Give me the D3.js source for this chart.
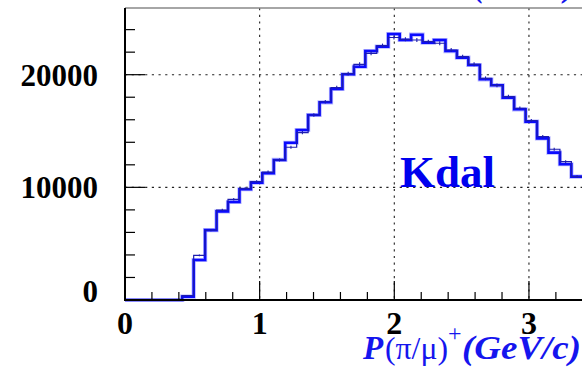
<!DOCTYPE html>
<html>
<head>
<meta charset="utf-8">
<script src="https://cdn.jsdelivr.net/npm/d3@7"></script>
<style>
  html, body { margin: 0; padding: 0; background: #ffffff; }
  svg { display: block; }
</style>
</head>
<body>
<svg id="chart" width="582" height="369"></svg>
<script>
// Momentum spectrum of the charged pi/mu, two overlaid histograms
const binWidth = 0.085;                 // GeV/c per bin
// Thick histogram (reference sample), counts per bin
const refCounts = [0, 0, 0, 0, 0, 300, 3550, 6200, 7870, 8700,
  9830, 10420, 11250, 12430, 13960, 15090, 16420, 17550, 18730, 20040,
  20710, 22100, 22490, 23610, 23080, 23550, 22840, 23080, 22100, 21510,
  20860, 19590, 19060, 17960, 16930, 15830, 14350, 13080, 12050, 10950];
// Thin histogram with error bars, counts per bin
const obsCounts = [0, 0, 0, 0, 0, 380, 3970, 6190, 7990, 8940,
  9880, 10500, 11360, 12430, 13560, 14850, 16420, 17600, 18850, 20090,
  20920, 21900, 22580, 23300, 23140, 23080, 22930, 22790, 22190, 21600,
  20920, 19680, 19060, 18050, 17020, 15920, 14500, 13380, 12280, 10950];
const xTickLabels = [0, 1, 2, 3];
const yTickLabels = [0, 10000, 20000];
const xDomain = [0, 3.5];
const yDomain = [0, 25920];
const sampleLabel = "Kdal";

const svg = d3.select("#chart");
const serif = "'Liberation Serif', 'Times New Roman', serif";

const x = d3.scaleLinear().domain(xDomain).range([125, 125 + 134.65 * xDomain[1]]);
const y = d3.scaleLinear().domain(yDomain).range([300, 8]);

// grid
const grid = svg.append("g").attr("stroke", "#222").attr("stroke-width", 1.1)
  .attr("stroke-dasharray", "2.2 4.5");
grid.selectAll("line.v").data(xTickLabels.filter(d => d > 0)).join("line")
  .attr("x1", d => x(d)).attr("x2", d => x(d)).attr("y1", y.range()[1]).attr("y2", y.range()[0]);
grid.selectAll("line.h").data(yTickLabels.filter(d => d > 0)).join("line")
  .attr("x1", x(0)).attr("x2", x.range()[1]).attr("y1", d => y(d)).attr("y2", d => y(d));

// top frame line
svg.append("line").attr("x1", x(0)).attr("x2", x.range()[1])
  .attr("y1", y.range()[1]).attr("y2", y.range()[1])
  .attr("stroke", "#888").attr("stroke-width", 1.5);

// step paths
function stepPoints(counts) {
  const pts = counts.map((c, i) => [i * binWidth, c]);
  pts.push([counts.length * binWidth, counts[counts.length - 1]]);
  return pts;
}
const step = d3.line().x(d => x(d[0])).y(d => y(d[1])).curve(d3.curveStepAfter);

svg.append("path").datum(stepPoints(refCounts)).attr("d", step)
  .attr("fill", "none").attr("stroke", "#7a7aff").attr("stroke-width", 4.2).attr("opacity", 0.55);
svg.append("path").datum(stepPoints(refCounts)).attr("d", step)
  .attr("fill", "none").attr("stroke", "#0a0aff").attr("stroke-width", 2.6);
svg.append("path").datum(stepPoints(obsCounts)).attr("d", step)
  .attr("fill", "none").attr("stroke", "#1c1cb0").attr("stroke-width", 1.2);

// error bars of the thin histogram
svg.append("g").attr("stroke", "#1c1cb0").attr("stroke-width", 1.1)
  .selectAll("line").data(obsCounts.map((c, i) => ({c, i})).filter(d => d.c > 0)).join("line")
  .attr("x1", d => x((d.i + 0.5) * binWidth)).attr("x2", d => x((d.i + 0.5) * binWidth))
  .attr("y1", d => y(d.c - 1.2 * Math.sqrt(d.c))).attr("y2", d => y(d.c + 1.2 * Math.sqrt(d.c)));

// axes lines
svg.append("line").attr("x1", x(0)).attr("x2", x(0)).attr("y1", y.range()[1]).attr("y2", y(0))
  .attr("stroke", "#000").attr("stroke-width", 2);
svg.append("line").attr("x1", x(0) - 1).attr("x2", x.range()[1]).attr("y1", y(0)).attr("y2", y(0))
  .attr("stroke", "#000").attr("stroke-width", 1.8);

// x ticks (inside, upward)
const xMinor = d3.range(0.2, xDomain[1] + 1e-9, 0.2).map(v => +v.toFixed(2));
svg.append("g").attr("stroke", "#000").attr("stroke-width", 1.2)
  .selectAll("line").data(xMinor).join("line")
  .attr("x1", d => x(d)).attr("x2", d => x(d)).attr("y1", y(0))
  .attr("y2", d => Math.abs(d - Math.round(d)) < 1e-6 ? y(0) - 19 : y(0) - 8);

// y ticks (inside, rightward)
const yMinor = d3.range(2000, yDomain[1], 2000);
svg.append("g").attr("stroke", "#000").attr("stroke-width", 1.2)
  .selectAll("line").data(yMinor).join("line")
  .attr("x1", x(0)).attr("y1", d => y(d)).attr("y2", d => y(d))
  .attr("x2", d => d % 10000 === 0 ? x(0) + 20 : x(0) + 10);

// tick labels
svg.append("g").selectAll("text").data(xTickLabels).join("text")
  .attr("x", d => x(d)).attr("y", 334).attr("text-anchor", "middle")
  .attr("font-family", serif).attr("font-weight", "bold").attr("font-size", 32)
  .text(d => d);
svg.append("g").selectAll("text").data(yTickLabels).join("text")
  .attr("x", 98).attr("y", d => Math.min(y(d) + 11, 302)).attr("text-anchor", "end")
  .attr("font-family", serif).attr("font-weight", "bold").attr("font-size", 31)
  .text(d => d);

// sample label
svg.append("text").attr("x", 400).attr("y", 187).attr("font-family", serif)
  .attr("font-weight", "bold").attr("font-size", 45).attr("fill", "#0000ee").text(sampleLabel);

// x-axis title
const title = svg.append("text").attr("y", 359).attr("fill", "#1515ee")
  .attr("font-family", serif).attr("font-size", 33);
title.append("tspan").attr("x", 363).attr("font-weight", "bold").attr("font-style", "italic").text("P");
title.append("tspan").attr("x", 385).attr("font-size", 32)
  .attr("textLength", 63).attr("lengthAdjust", "spacingAndGlyphs").text("(π/μ)");
title.append("tspan").attr("x", 448).attr("dy", -18).attr("font-size", 24).text("+");
title.append("tspan").attr("x", 462).attr("dy", 18).attr("font-weight", "bold").attr("font-style", "italic")
  .attr("textLength", 119).attr("lengthAdjust", "spacingAndGlyphs").text("(GeV/c)");

// axis title of the pad above; only the lowest part reaches this pad
svg.append("text").attr("x", 474).attr("y", -3).attr("fill", "#1515ee")
  .attr("font-family", serif).attr("font-size", 31).attr("font-weight", "bold").attr("font-style", "italic")
  .attr("textLength", 100).attr("lengthAdjust", "spacingAndGlyphs").text("(GeV/c)");
</script>
</body>
</html>
